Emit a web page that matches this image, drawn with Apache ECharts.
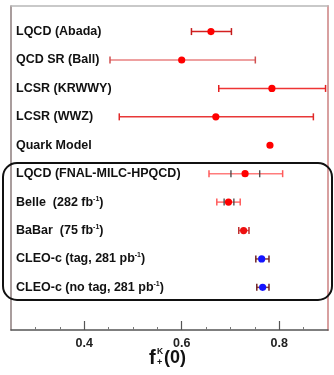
<!DOCTYPE html>
<html>
<head>
<meta charset="utf-8">
<script src="https://cdn.jsdelivr.net/npm/echarts@6/dist/echarts.min.js"></script>
<style>
  html, body { margin: 0; padding: 0; background: #fff; }
  #chart { width: 334px; height: 375px; }
</style>
</head>
<body>
<div id="chart"></div>
<script>
// measurements of f+K(0), top row first
const labels = [
  'LQCD (Abada)',
  'QCD SR (Ball)',
  'LCSR (KRWWY)',
  'LCSR (WWZ)',
  'Quark Model',
  'LQCD (FNAL-MILC-HPQCD)',
  'Belle  (282 fb{sup|-1})',
  'BaBar  (75 fb{sup|-1})',
  'CLEO-c (tag, 281 pb{sup|-1})',
  'CLEO-c (no tag, 281 pb{sup|-1})'
];
const centers   = [0.660, 0.600, 0.785, 0.670, 0.781, 0.730, 0.696, 0.727, 0.764, 0.766];
const lows      = [0.620, 0.453, 0.676, 0.472, null,  0.656, 0.672, 0.717, 0.752, 0.754];
const highs     = [0.702, 0.751, 0.895, 0.870, null,  0.807, 0.720, 0.738, 0.779, 0.779];
// inner (statistical) error ticks
const statLows  = [null, null, null, null, null, 0.701, 0.687, null, null, null];
const statHighs = [null, null, null, null, null, 0.760, 0.707, null, null, null];

const minorTicks = [0.3, 0.35, 0.4, 0.45, 0.5, 0.55, 0.6, 0.65, 0.7, 0.75, 0.8, 0.85];
const majorTicks = [0.4, 0.6, 0.8];

// styles per row
const lineColors = ['#d42020', '#e88080', '#ee3434', '#e83838', '#ee2020', '#ff7c7c', '#ff7070', '#e04848', '#8a3a3a', '#8a3a3a'];
const capColors  = ['#c41a1a', '#d05050', '#e42020', '#e02828', '#ee2020', '#ff5a5a', '#ff5a5a', '#c03030', '#6e2222', '#6e2222'];
const dotColors  = ['#ff0000', '#ff0000', '#ff0000', '#ff0000', '#ff0000', '#ff0000', '#ff0000', '#ee1010', '#1414ff', '#1414ff'];

const FONT = '"Liberation Sans", Arial, sans-serif';
const X_MIN = 0.25, X_MAX = 0.9;

const chart = echarts.init(document.getElementById('chart'));

function renderItem(params, api) {
  const i = params.dataIndex;
  const c = api.coord([centers[i], i]);
  const y = c[1];
  const kids = [];
  const left = api.coord([X_MIN, i])[0];

  kids.push({
    type: 'text',
    style: {
      text: labels[i], x: left + 5, y: y, verticalAlign: 'middle', align: 'left',
      fontFamily: FONT, fontWeight: 'bold', fontSize: 12.5, fill: '#111', lineHeight: 14,
      rich: { sup: { fontSize: 7, fontWeight: 'bold', fontFamily: FONT, verticalAlign: 'top', lineHeight: 8 } }
    }
  });

  if (lows[i] != null) {
    const x1 = api.coord([lows[i], i])[0];
    const x2 = api.coord([highs[i], i])[0];
    kids.push({ type: 'line', shape: { x1: x1, y1: y, x2: x2, y2: y }, style: { stroke: lineColors[i], lineWidth: 1.5 } });
    [x1, x2].forEach(function (x) {
      kids.push({ type: 'line', shape: { x1: x, y1: y - 3.5, x2: x, y2: y + 3.5 }, style: { stroke: capColors[i], lineWidth: 1.5 } });
    });
  }
  if (statLows[i] != null) {
    [statLows[i], statHighs[i]].forEach(function (v) {
      const x = api.coord([v, i])[0];
      kids.push({ type: 'line', shape: { x1: x, y1: y - 3.5, x2: x, y2: y + 3.5 }, style: { stroke: '#444', lineWidth: 1.3 } });
    });
  }
  kids.push({ type: 'circle', shape: { cx: c[0], cy: y, r: 3.6 }, style: { fill: dotColors[i] } });
  return { type: 'group', children: kids };
}

const gridBox = { left: 11, right: 6, top: 6, bottom: 45 };

const option = {
  animation: false,
  backgroundColor: '#fff',
  grid: [
    Object.assign({}, gridBox),
    Object.assign({}, gridBox)
  ],
  xAxis: [
    {
      gridIndex: 0, type: 'value', position: 'bottom', min: X_MIN, max: X_MAX,
      axisLine: { show: true, onZero: false, lineStyle: { color: '#555', width: 1.5 } },
      axisTick: { show: true, inside: true, length: 3, customValues: minorTicks, lineStyle: { color: '#777' } },
      axisLabel: {
        customValues: majorTicks, margin: 7, color: '#222', fontFamily: FONT, fontWeight: 'bold', fontSize: 12.5,
        formatter: function (v) { return v.toFixed(1); }
      },
      splitLine: { show: false }
    },
    {
      gridIndex: 0, type: 'value', position: 'top', min: X_MIN, max: X_MAX,
      axisLine: { show: true, onZero: false, lineStyle: { color: '#b8b8b8', width: 1.5 } },
      axisTick: { show: false }, axisLabel: { show: false }, splitLine: { show: false }
    },
    {
      gridIndex: 1, type: 'value', position: 'bottom', min: X_MIN, max: X_MAX,
      axisLine: { show: false, onZero: false },
      axisTick: { show: true, inside: true, length: 9, customValues: majorTicks, lineStyle: { color: '#555', width: 1.2 } },
      axisLabel: { show: false }, splitLine: { show: false }
    }
  ],
  yAxis: [
    {
      gridIndex: 0, type: 'value', position: 'left', inverse: true, min: -0.9, max: 10.5,
      axisLine: { show: true, onZero: false, lineStyle: { color: '#8c7c7c', width: 1.5 } },
      axisTick: { show: false }, axisLabel: { show: false }, splitLine: { show: false }
    },
    {
      gridIndex: 0, type: 'value', position: 'right', inverse: true, min: -0.9, max: 10.5,
      axisLine: { show: true, onZero: false, lineStyle: { color: '#d8a0a0', width: 2 } },
      axisTick: { show: false }, axisLabel: { show: false }, splitLine: { show: false }
    },
    {
      gridIndex: 1, type: 'value', inverse: true, min: -0.9, max: 10.5, show: false
    }
  ],
  series: [
    {
      type: 'custom',
      xAxisIndex: 0,
      yAxisIndex: 0,
      clip: false,
      renderItem: renderItem,
      data: centers.map(function (v, i) { return [v, i]; })
    }
  ],
  graphic: [
    {
      type: 'rect', z: 100,
      shape: { x: 3, y: 163, width: 329, height: 137, r: 14 },
      style: { fill: 'none', stroke: '#111', lineWidth: 2 }
    },
    {
      type: 'group', z: 100,
      children: [
        { type: 'text', x: 149, y: 358, style: { text: 'f', fontFamily: FONT, fontWeight: 'bold', fontSize: 20, fill: '#111', verticalAlign: 'middle' } },
        { type: 'text', x: 157, y: 352, style: { text: 'K', fontFamily: FONT, fontWeight: 'bold', fontSize: 8.5, fill: '#111', verticalAlign: 'middle' } },
        { type: 'text', x: 157, y: 363, style: { text: '+', fontFamily: FONT, fontWeight: 'bold', fontSize: 9, fill: '#111', verticalAlign: 'middle' } },
        { type: 'text', x: 164, y: 358, style: { text: '(0)', fontFamily: FONT, fontWeight: 'bold', fontSize: 18, fill: '#111', verticalAlign: 'middle' } }
      ]
    }
  ]
};

chart.setOption(option);
</script>
</body>
</html>
